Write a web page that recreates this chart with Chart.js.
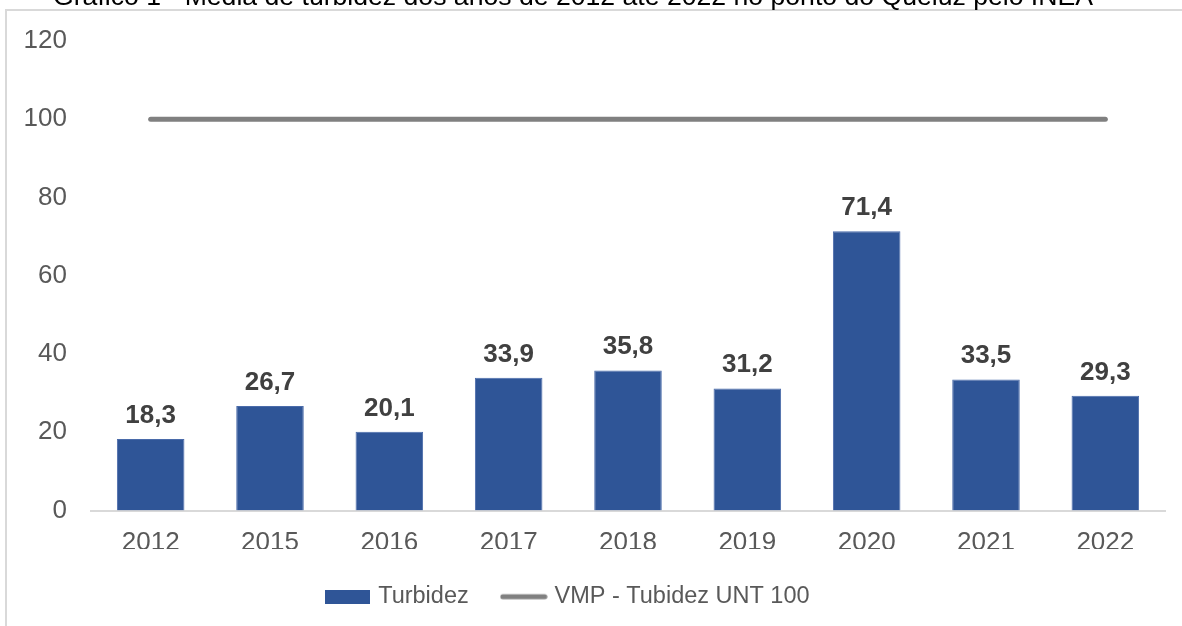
<!DOCTYPE html>
<html>
<head>
<meta charset="utf-8">
<script src="https://cdn.jsdelivr.net/npm/chart.js@4/dist/chart.umd.min.js"></script>
<style>
  html, body { margin: 0; padding: 0; background: #fff; }
  #wrap { width: 1182px; height: 626px; overflow: hidden; }
</style>
</head>
<body>
<div id="wrap"><canvas id="grafico" width="1182" height="626"></canvas></div>
<script>
const titulo = 'Gráfico 1 - Média de turbidez dos anos de 2012 até 2022 no ponto do Queluz pelo INEA';
const anos = ['2012', '2015', '2016', '2017', '2018', '2019', '2020', '2021', '2022'];
const turbidez = [18.3, 26.7, 20.1, 33.9, 35.8, 31.2, 71.4, 33.5, 29.3];
const vmp = [100, 100, 100, 100, 100, 100, 100, 100, 100];
const eixoY = { min: 0, max: 120, passo: 20 };

const fonte = '"Liberation Sans", Arial, sans-serif';

// amostras da legenda
function amostra(w, h, desenha) {
    const c = document.createElement('canvas');
    c.width = w;
    c.height = h;
    desenha(c.getContext('2d'));
    return c;
}
const amostraBarra = amostra(45, 14, ctx => {
    ctx.fillStyle = '#2F5597';
    ctx.fillRect(0, 0, 45, 14);
});
const amostraLinha = amostra(48, 8, ctx => {
    ctx.strokeStyle = '#808080';
    ctx.lineWidth = 5;
    ctx.lineCap = 'round';
    ctx.beginPath();
    ctx.moveTo(3, 4);
    ctx.lineTo(45, 4);
    ctx.stroke();
});

// moldura e título cortado no topo
const moldura = {
    id: 'moldura',
    beforeDraw(chart) {
        const ctx = chart.ctx;
        ctx.save();
        ctx.strokeStyle = '#d9d9d9';
        ctx.lineWidth = 2;
        ctx.strokeRect(6, 10, 1400, 1000);
        ctx.font = '24px ' + fonte;
        const w = ctx.measureText(titulo).width;
        const tam = 24 * 1040 / w;
        ctx.font = tam + 'px ' + fonte;
        ctx.fillStyle = '#000';
        ctx.textAlign = 'center';
        ctx.textBaseline = 'alphabetic';
        ctx.fillText(titulo, 573, 5);
        ctx.restore();
    }
};

// rótulos de dados em negrito
const rotulos = {
    id: 'rotulos',
    afterDatasetsDraw(chart) {
        const ctx = chart.ctx;
        const meta = chart.getDatasetMeta(0);
        ctx.save();
        ctx.font = 'bold 26px ' + fonte;
        ctx.fillStyle = '#404040';
        ctx.textAlign = 'center';
        ctx.textBaseline = 'alphabetic';
        meta.data.forEach((bar, i) => {
            const txt = turbidez[i].toFixed(1).replace('.', ',');
            ctx.fillText(txt, bar.x, bar.y - 16);
        });
        ctx.restore();
    }
};

// centraliza a legenda como no original
const ajusteLegenda = {
    id: 'ajusteLegenda',
    afterLayout(chart) {
        const L = chart.legend;
        const dx = 569 - (L.left + L.right) / 2;
        L.left += dx;
        L.right += dx;
    }
};

new Chart(document.getElementById('grafico'), {
    data: {
        labels: anos,
        datasets: [
            {
                type: 'bar',
                label: 'Turbidez',
                data: turbidez,
                backgroundColor: '#2F5597',
                borderColor: '#4A6BAA',
                borderWidth: 1,
                barPercentage: 0.566,
                categoryPercentage: 1,
                order: 2
            },
            {
                type: 'line',
                label: 'VMP - Tubidez UNT 100',
                data: vmp,
                borderColor: '#808080',
                borderWidth: 5,
                borderCapStyle: 'round',
                pointRadius: 0,
                fill: false,
                order: 1
            }
        ]
    },
    options: {
        responsive: false,
        animation: false,
        layout: { padding: { top: 41, right: 17, bottom: 7.5, left: 0 } },
        scales: {
            x: {
                grid: { display: false, drawTicks: false },
                border: { display: true, color: '#d9d9d9', width: 2 },
                ticks: { color: '#595959', font: { family: fonte, size: 26 }, padding: 17 },
                afterFit: s => { s.height = 38.5; }
            },
            y: {
                min: eixoY.min,
                max: eixoY.max,
                grid: { display: false, drawTicks: false },
                border: { display: false },
                ticks: { stepSize: eixoY.passo, color: '#595959', font: { family: fonte, size: 26 }, padding: 24 },
                afterFit: s => { s.width = 91; }
            }
        },
        plugins: {
            legend: {
                position: 'bottom',
                labels: {
                    usePointStyle: true,
                    pointStyleWidth: 38,
                    padding: 36,
                    color: '#595959',
                    font: { family: fonte, size: 23.5 },
                    generateLabels: chart => chart.data.datasets.map((ds, i) => ({
                        text: ds.label,
                        pointStyle: i === 0 ? amostraBarra : amostraLinha,
                        fillStyle: 'transparent',
                        strokeStyle: 'transparent',
                        lineWidth: 0,
                        fontColor: '#595959',
                        hidden: false,
                        datasetIndex: i
                    }))
                }
            },
            tooltip: { enabled: false }
        }
    },
    plugins: [moldura, rotulos, ajusteLegenda]
});
</script>
</body>
</html>
